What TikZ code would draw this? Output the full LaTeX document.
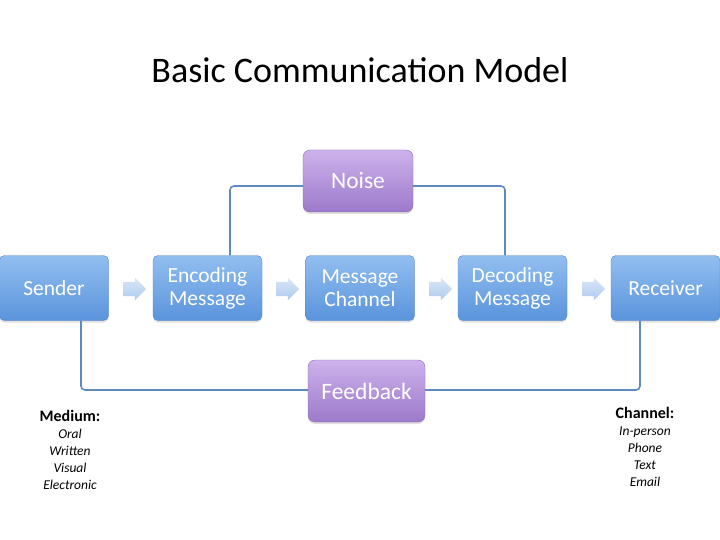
\documentclass[tikz,border=0pt]{standalone}
\usepackage{fontspec}
\setmainfont{Carlito}
\usetikzlibrary{shapes.arrows,shadows}
\definecolor{bluetop}{HTML}{92BEF0}
\definecolor{bluebot}{HTML}{5A94DC}
\definecolor{purptop}{HTML}{CDB2EC}
\definecolor{purpbot}{HTML}{9C79CA}
\definecolor{linec}{HTML}{5D8AC0}
\definecolor{arrtop}{HTML}{D9E6F7}
\definecolor{arrbot}{HTML}{AFCBEE}
\tikzset{
  bluebox/.style={rounded corners=5pt, draw=bluebot!90!black, line width=0.4pt, top color=bluetop, bottom color=bluebot,
    minimum width=109pt, minimum height=65pt, text=white, font=\fontsize{21.5}{23}\selectfont, align=center, inner sep=0pt,
    drop shadow={shadow xshift=0pt, shadow yshift=-2pt, opacity=0.25}},
  purpbox/.style={rounded corners=7pt, draw=purpbot!90!black, line width=0.4pt, top color=purptop, bottom color=purpbot,
    minimum height=62pt, text=white, font=\fontsize{23.5}{25}\selectfont, align=center, inner sep=0pt,
    drop shadow={shadow xshift=0pt, shadow yshift=-2pt, opacity=0.25}},
  blockarr/.style={single arrow, single arrow head extend=4pt, single arrow head indent=0pt, minimum height=23pt,
    inner xsep=0pt, inner ysep=7pt, shape border rotate=0, top color=arrtop, bottom color=arrbot, draw=none},
  conn/.style={draw=linec, line width=1.6pt, rounded corners=4pt},
  lbl/.style={align=center, font=\fontsize{13.5}{17}\selectfont}
}
\begin{document}
\begin{tikzpicture}[x=1pt,y=-1pt]
\useasboundingbox (0,0) rectangle (720,540);
\fill[white] (0,0) rectangle (720,540);
\node[font=\fontsize{36}{40}\selectfont] (title) at (360,70) {Basic Communication Model};
\coordinate (nL) at (230,186);
\coordinate (nR) at (505,186);
\coordinate (fL) at (81,390);
\coordinate (fR) at (640,390);
\node[bluebox] (sender) at (54,288) {Sender};
\node[bluebox] (enc) at (207.5,288) {Encoding\\Message};
\node[bluebox] (chan) at (360,288) {Message\\Channel};
\node[bluebox] (dec) at (512.5,288) {Decoding\\Message};
\node[bluebox] (recv) at (665.5,288) {Receiver};
\node[purpbox, minimum width=110pt] (noise) at (358,181) {Noise};
\node[purpbox, minimum width=117pt] (feed) at (366.5,391) {Feedback};
\draw[conn] (enc.north -| nL) -- (nL) -- (noise.west |- nL);
\draw[conn] (noise.east |- nR) -- (nR) -- (dec.north -| nR);
\draw[conn] (sender.south -| fL) -- (fL) -- (feed.west |- fL);
\draw[conn] (feed.east |- fR) -- (fR) -- (recv.south -| fR);
\node[blockarr] (a1) at (131,289) {};
\node[blockarr] (a2) at (284,289) {};
\node[blockarr] (a3) at (437,289) {};
\node[blockarr] (a4) at (590,289) {};
\node[lbl, anchor=north] (med) at (70,407) {\textbf{\fontsize{16}{17}\selectfont Medium:}\\\textit{Oral}\\\textit{Written}\\\textit{Visual}\\\textit{Electronic}};
\node[lbl, anchor=north] (chl) at (645,404) {\textbf{\fontsize{16}{17}\selectfont Channel:}\\\textit{In-person}\\\textit{Phone}\\\textit{Text}\\\textit{Email}};
\end{tikzpicture}
\end{document}
